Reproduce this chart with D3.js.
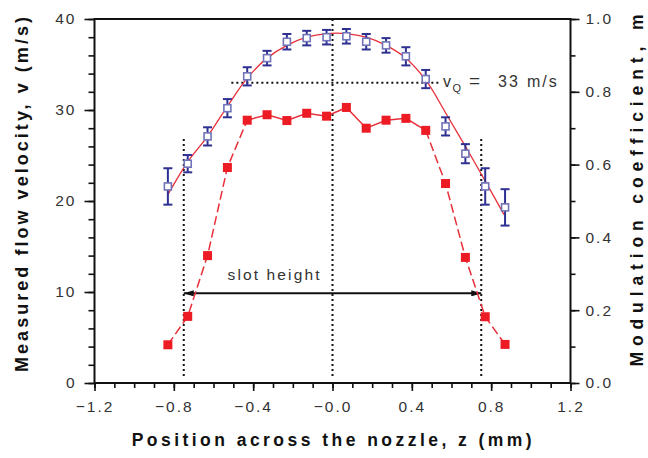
<!DOCTYPE html>
<html>
<head>
<meta charset="utf-8">
<script src="https://cdn.jsdelivr.net/npm/d3@7"></script>
<style>
  body { margin: 0; background: #fff; }
  svg { font-family: "Liberation Sans", Arial, sans-serif; }
  .tick text { fill: #333; font-size: 15.5px; letter-spacing: 2px; }
  .tick line { stroke: #111; stroke-width: 1.6; }
</style>
</head>
<body>
<script>
(function(){

    // positions across the nozzle (mm)
    var zPos = [-0.83, -0.73, -0.63, -0.53, -0.43, -0.33, -0.23, -0.13, -0.03,
                0.07, 0.17, 0.27, 0.37, 0.47, 0.57, 0.67, 0.77, 0.87];
    // measured velocity (m/s) and its error
    var velocity = [21.6, 24.1, 27.1, 30.2, 33.7, 35.7, 37.5, 37.9, 38.0,
                    38.1, 37.5, 37.1, 35.9, 33.4, 28.2, 25.2, 21.6, 19.3];
    var velErr = [2.0, 0.95, 1.0, 1.0, 1.0, 0.8, 0.85, 0.8, 0.8,
                  0.8, 0.85, 0.8, 1.0, 1.0, 1.0, 1.05, 2.0, 2.0];
    // modulation coefficient m
    var modulation = [0.105, 0.183, 0.35, 0.592, 0.722, 0.737, 0.721, 0.741, 0.733,
                      0.757, 0.700, 0.722, 0.727, 0.694, 0.548, 0.345, 0.182, 0.106];
    // fitted velocity profile
    var fitZ = [-0.83, -0.73, -0.63, -0.53, -0.43, -0.33, -0.23, -0.13, -0.03,
                0.07, 0.17, 0.27, 0.37, 0.47, 0.57, 0.67, 0.77, 0.865];
    var fitV = [20.7, 24.3, 27.1, 30.4, 33.5, 35.7, 37.1, 38.0, 38.4,
                38.4, 38.0, 37.1, 35.7, 33.3, 29.7, 26.0, 22.2, 18.5];

    var xTicks = [-1.2, -0.8, -0.4, 0, 0.4, 0.8, 1.2];
    var yLeftTicks = [0, 10, 20, 30, 40];
    var yRightTicks = [0, 0.2, 0.4, 0.6, 0.8, 1.0];

    var vQ = 33, slotHalf = 0.75, arrowV = 9.85;

    var width = 648, height = 458;

    var svg = d3.select("body")
        .append("svg")
        .attr("width", width)
        .attr("height", height);

    var x = d3.scaleLinear().domain([-1.2, 1.2]).range([94.5, 570.5]);
    var yL = d3.scaleLinear().domain([0, 40]).range([383, 19]);
    var yR = d3.scaleLinear().domain([0, 1]).range([383, 19]);

    // minor ticks
    svg.append("g")
        .attr("transform", "translate(0,383)")
        .call(d3.axisBottom(x).tickValues(d3.range(-12, 13).map(function(d){ return d / 10; }))
            .tickSize(5).tickFormat(""));
    svg.append("g")
        .attr("transform", "translate(94.5,0)")
        .call(d3.axisLeft(yL).tickValues(d3.range(0, 41, 2)).tickSize(6).tickFormat(""));
    svg.append("g")
        .attr("transform", "translate(570.5,0)")
        .call(d3.axisRight(yR).tickValues(d3.range(0, 11).map(function(d){ return d / 10; }))
            .tickSize(5).tickFormat(""));

    // major ticks with labels
    svg.append("g")
        .attr("transform", "translate(0,383)")
        .call(d3.axisBottom(x).tickValues(xTicks).tickSize(8).tickPadding(10)
            .tickFormat(function(d){ return d === 0 ? "\u22120.0" : d3.format(".1f")(d); }));
    svg.append("g")
        .attr("transform", "translate(94.5,0)")
        .call(d3.axisLeft(yL).tickValues(yLeftTicks).tickSize(10).tickPadding(8));
    svg.append("g")
        .attr("transform", "translate(570.5,0)")
        .call(d3.axisRight(yR).tickValues(yRightTicks).tickSize(9).tickPadding(6)
            .tickFormat(d3.format(".1f")));

    svg.selectAll(".domain").remove();

    // frame
    svg.append("rect")
        .attr("x", x(-1.2)).attr("y", yL(40))
        .attr("width", x(1.2) - x(-1.2)).attr("height", yL(0) - yL(40))
        .attr("fill", "none").attr("stroke", "#111").attr("stroke-width", 2);

    // dotted guide lines
    var dotted = svg.append("g")
        .attr("stroke", "#111").attr("stroke-width", 2)
        .attr("stroke-dasharray", "2,3").attr("fill", "none");
    dotted.append("line")
        .attr("x1", x(0)).attr("x2", x(0)).attr("y1", yL(40)).attr("y2", yL(0.6));
    [-slotHalf, slotHalf].forEach(function(z){
        dotted.append("line")
            .attr("x1", x(z)).attr("x2", x(z)).attr("y1", yL(26.8)).attr("y2", yL(0.6));
    });
    dotted.append("line")
        .attr("x1", x(-0.51)).attr("x2", x(0.545)).attr("y1", yL(vQ)).attr("y2", yL(vQ));

    // slot height arrow
    var defs = svg.append("defs");
    defs.append("marker")
        .attr("id", "arrow")
        .attr("viewBox", "0 0 10 6")
        .attr("refX", 10).attr("refY", 3)
        .attr("markerWidth", 10).attr("markerHeight", 6)
        .attr("markerUnits", "userSpaceOnUse")
        .attr("orient", "auto-start-reverse")
        .append("path")
        .attr("d", "M0,0 L10,3 L0,6 Z")
        .attr("fill", "#111");
    svg.append("line")
        .attr("x1", x(-slotHalf)).attr("x2", x(slotHalf))
        .attr("y1", yL(arrowV)).attr("y2", yL(arrowV))
        .attr("stroke", "#111").attr("stroke-width", 2)
        .attr("marker-start", "url(#arrow)")
        .attr("marker-end", "url(#arrow)");

    svg.append("text")
        .attr("x", 227.5).attr("y", 279.5)
        .attr("font-size", 15.5).attr("fill", "#333")
        .attr("textLength", 92).attr("lengthAdjust", "spacing")
        .text("slot height");

    // fit curve
    var fitData = fitZ.map(function(z, i){ return [z, fitV[i]]; });
    svg.append("path")
        .datum(fitData)
        .attr("fill", "none")
        .attr("stroke", "#e8303a")
        .attr("stroke-width", 1.3)
        .attr("d", d3.line()
            .x(function(d){ return x(d[0]); })
            .y(function(d){ return yL(d[1]); })
            .curve(d3.curveCatmullRom));

    // modulation line: dashed wings, solid centre
    var modData = zPos.map(function(z, i){ return [z, modulation[i]]; });
    var modLine = d3.line()
        .x(function(d){ return x(d[0]); })
        .y(function(d){ return yR(d[1]); });
    var parts = [
        {d: modData.slice(0, 5), dash: "9,4"},
        {d: modData.slice(4, 14), dash: null},
        {d: modData.slice(13), dash: "9,4"}
    ];
    svg.selectAll(".modLine")
        .data(parts)
        .enter()
        .append("path")
        .attr("class", "modLine")
        .attr("fill", "none")
        .attr("stroke", "#e8303a")
        .attr("stroke-width", 1.5)
        .attr("stroke-dasharray", function(p){ return p.dash; })
        .attr("d", function(p){ return modLine(p.d); });

    svg.selectAll(".modPt")
        .data(modData)
        .enter()
        .append("rect")
        .attr("class", "modPt")
        .attr("x", function(d){ return x(d[0]) - 4.5; })
        .attr("y", function(d){ return yR(d[1]) - 4.5; })
        .attr("width", 9).attr("height", 9)
        .attr("fill", "#ed1c24");

    // velocity points with error bars
    var velData = zPos.map(function(z, i){ return {z: z, v: velocity[i], e: velErr[i]}; });
    var err = svg.selectAll(".err")
        .data(velData)
        .enter()
        .append("g")
        .attr("class", "err")
        .attr("stroke", "#2e3192")
        .attr("stroke-width", 2);
    err.append("line")
        .attr("x1", function(d){ return x(d.z); })
        .attr("x2", function(d){ return x(d.z); })
        .attr("y1", function(d){ return yL(d.v + d.e); })
        .attr("y2", function(d){ return yL(d.v - d.e); });
    [1, -1].forEach(function(s){
        err.append("line")
            .attr("x1", function(d){ return x(d.z) - 4.5; })
            .attr("x2", function(d){ return x(d.z) + 4.5; })
            .attr("y1", function(d){ return yL(d.v + s * d.e); })
            .attr("y2", function(d){ return yL(d.v + s * d.e); });
    });
    svg.selectAll(".velPt")
        .data(velData)
        .enter()
        .append("rect")
        .attr("class", "velPt")
        .attr("x", function(d){ return x(d.z) - 3.5; })
        .attr("y", function(d){ return yL(d.v) - 3.5; })
        .attr("width", 7).attr("height", 7)
        .attr("fill", "#fff")
        .attr("stroke", "#7073b8")
        .attr("stroke-width", 1.6);

    // vQ annotation
    var vq = svg.append("text")
        .attr("y", 86.5)
        .attr("font-size", 16)
        .attr("fill", "#333");
    vq.append("tspan").attr("x", 443).text("v");
    vq.append("tspan").attr("x", 452.5).attr("dy", 5).attr("font-size", 11).text("Q");
    vq.append("tspan").attr("x", 469).attr("dy", -5).attr("font-size", 19).text("=");
    vq.append("tspan").attr("x", 498).attr("letter-spacing", "2px").text("33");
    vq.append("tspan").attr("x", 527).attr("letter-spacing", "2px").text("m/s");

    // axis titles
    svg.append("text")
        .attr("transform", "translate(28,194.5) rotate(-90)")
        .attr("text-anchor", "middle")
        .attr("font-size", 18).attr("font-weight", "bold").attr("fill", "#111")
        .attr("textLength", 355).attr("lengthAdjust", "spacing")
        .text("Measured flow velocity, v (m/s)");

    svg.append("text")
        .attr("transform", "translate(643,190.5) rotate(-90)")
        .attr("text-anchor", "middle")
        .attr("font-size", 17.5).attr("font-weight", "bold").attr("fill", "#111")
        .attr("textLength", 352).attr("lengthAdjust", "spacing")
        .text("Modulation coefficient, m");

    svg.append("text")
        .attr("x", 331.7).attr("y", 445.5)
        .attr("text-anchor", "middle")
        .attr("font-size", 17.5).attr("font-weight", "bold").attr("fill", "#111")
        .attr("textLength", 400).attr("lengthAdjust", "spacing")
        .text("Position across the nozzle, z (mm)");

})();
</script>
</body>
</html>
